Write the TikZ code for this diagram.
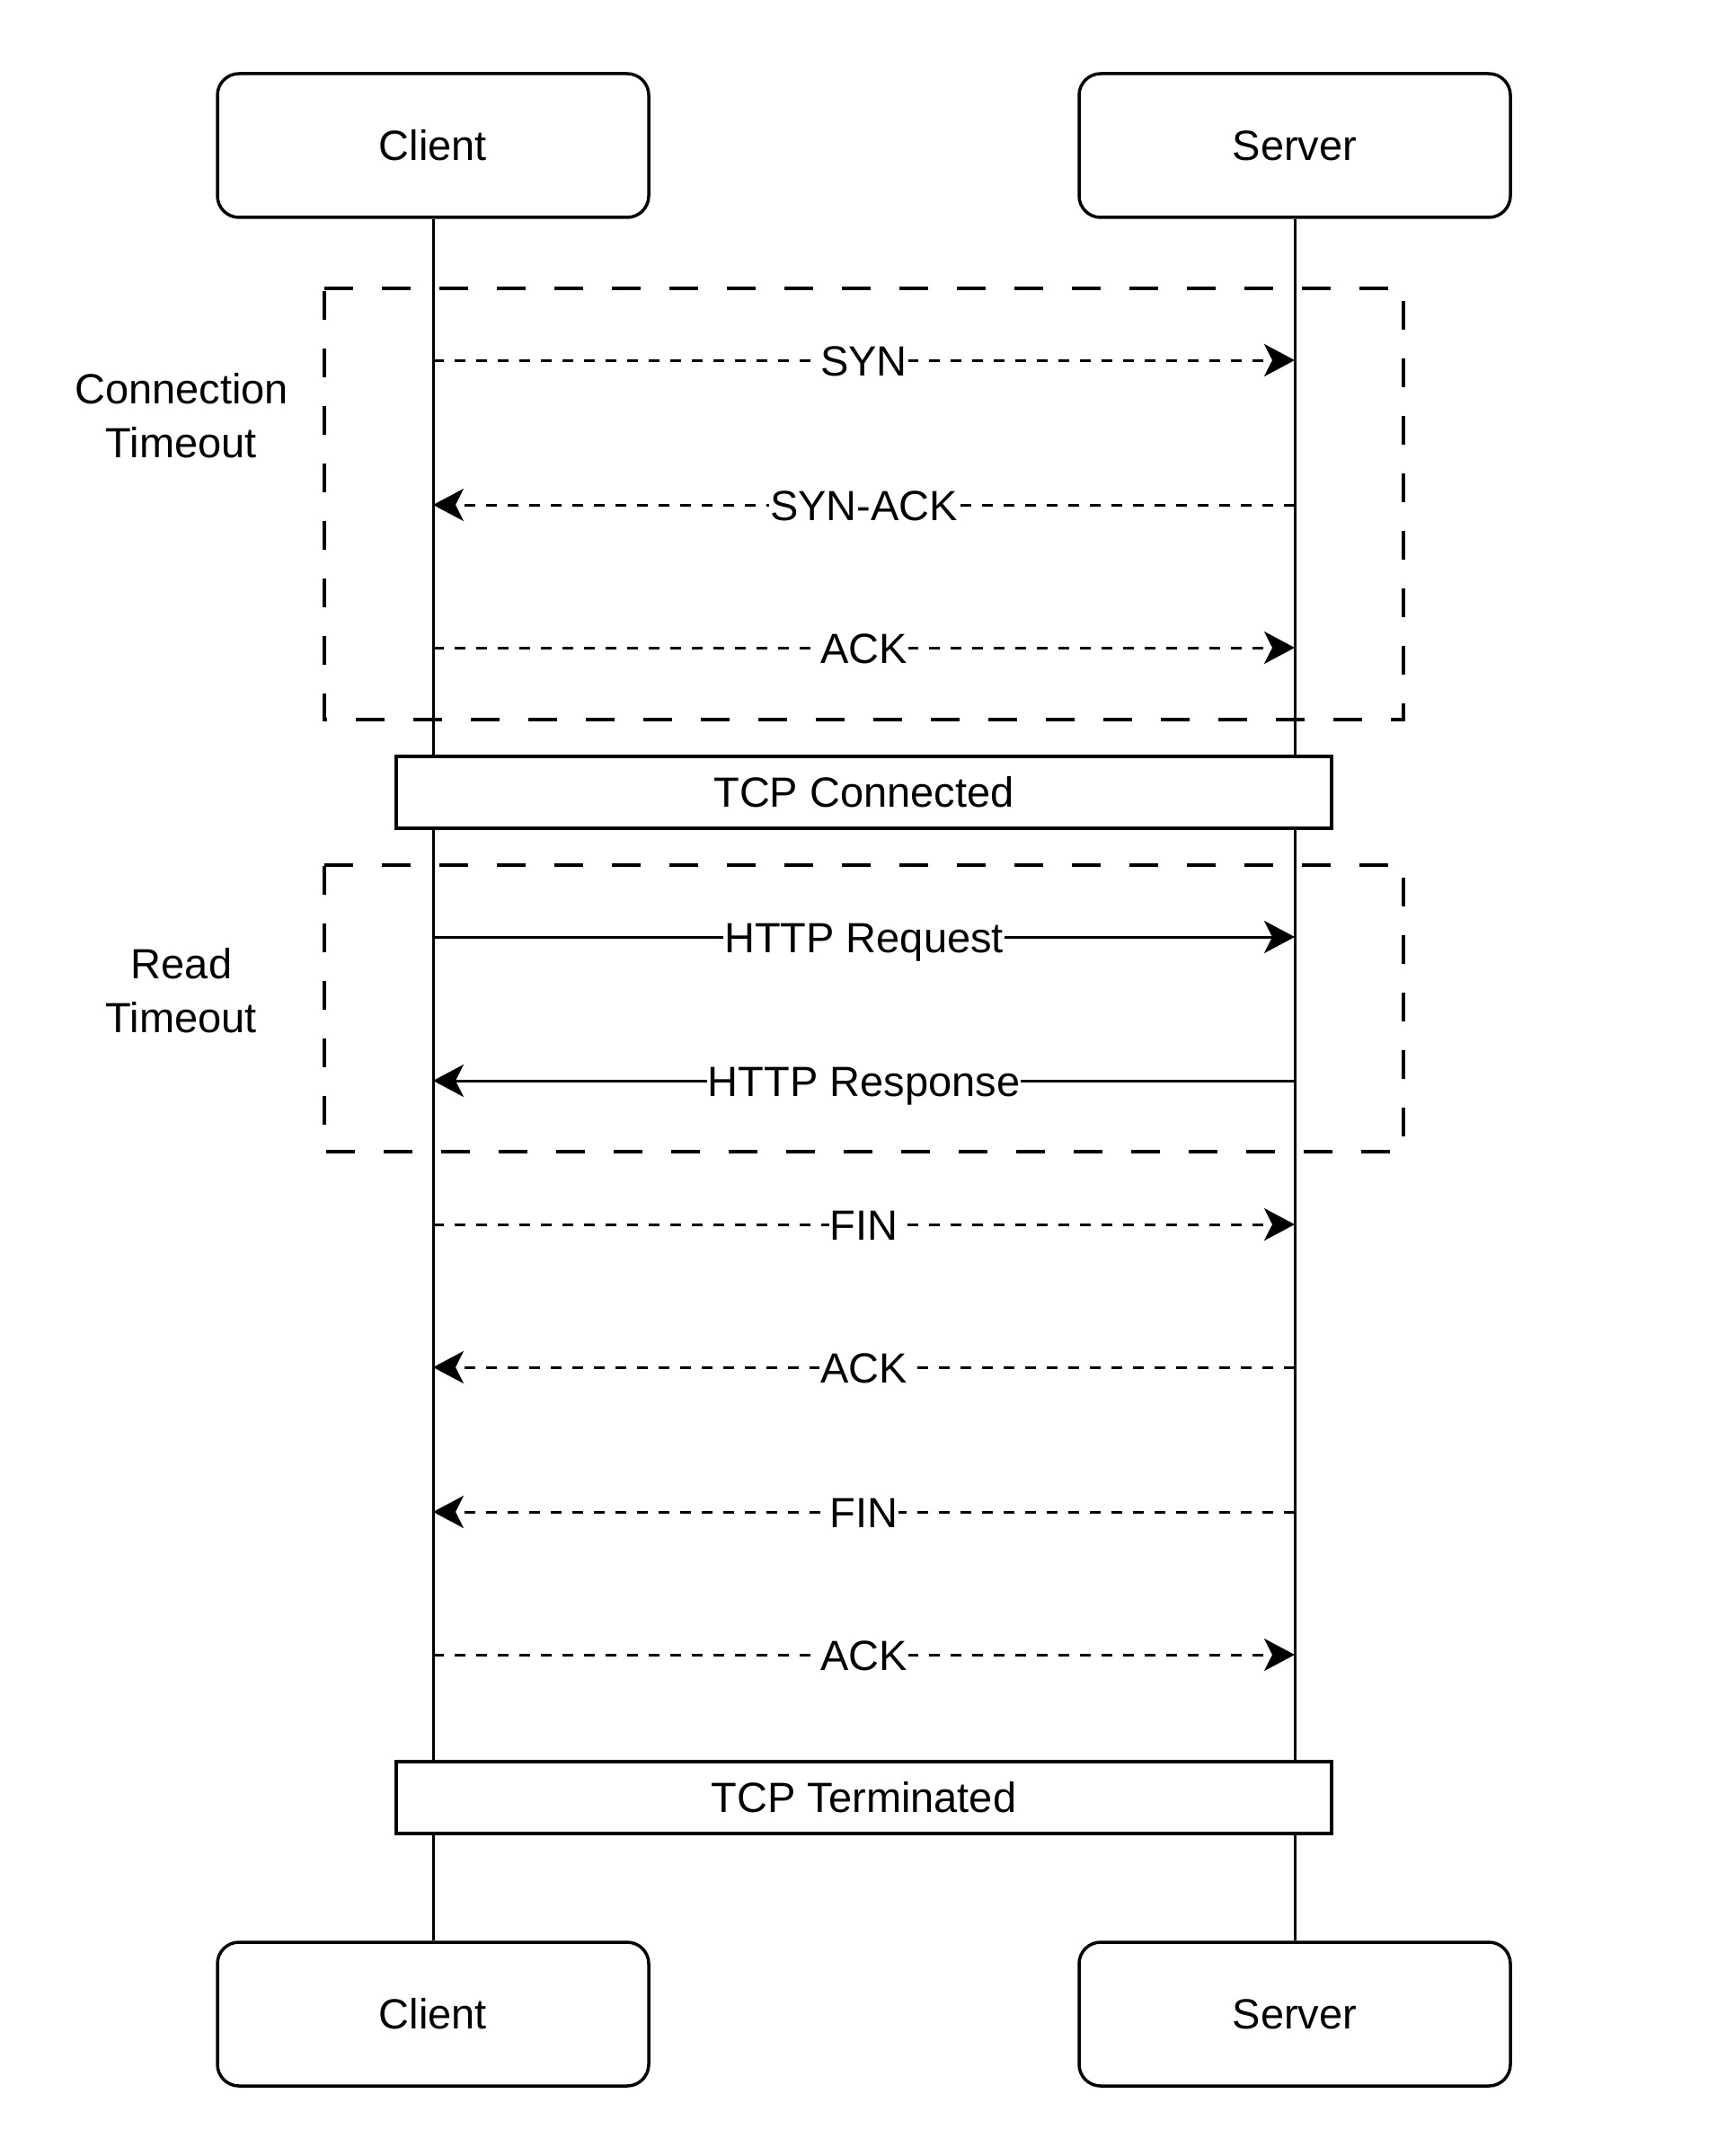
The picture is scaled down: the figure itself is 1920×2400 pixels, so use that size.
\documentclass[tikz,border=0pt]{standalone}
\usepackage{fontspec}
\setmainfont{Liberation Sans}
\usetikzlibrary{arrows.meta}
\tikzset{
  actor/.style={draw, line width=3.5pt, rounded corners=24pt, minimum width=480pt, minimum height=160pt, inner sep=0pt, fill=white},
  lifeline/.style={line width=3pt},
  frame/.style={minimum width=1201pt, inner sep=0pt},
  framepath/.style={line width=3.5pt, dash pattern=on 32pt off 32pt},
  statebox/.style={draw, line width=3.5pt, minimum width=1041pt, minimum height=80pt, inner sep=0pt, fill=white},
  msg/.style={line width=3pt, -{Stealth[length=34pt,width=36pt,inset=9pt]}},
  dotmsg/.style={msg, dash pattern=on 12pt off 12pt},
  lbl/.style={fill=white, inner sep=1pt, text height=34pt, text depth=0pt},
  side/.style={align=center, inner sep=0pt}
}
\begin{document}
\begin{tikzpicture}[x=1pt,y=-1pt,font=\fontsize{47}{60}\selectfont]
\useasboundingbox (0,0) rectangle (1920,2400);
% actors
\node[actor] (cTop) at (482,162) {Client};
\node[actor] (sTop) at (1441,162) {Server};
\node[actor] (cBot) at (482,2242) {Client};
\node[actor] (sBot) at (1441,2242) {Server};
% lifelines
\draw[lifeline] (cTop.south) -- (cBot.north);
\draw[lifeline] (sTop.south) -- (sBot.north);
% frames
\node[frame, minimum height=480pt] (conn) at (961.5,561) {};
\node[frame, minimum height=319pt] (read) at (961.5,1122.5) {};
\draw[framepath] (conn.north west) -- (conn.north east) -- (conn.south east) -- (conn.south west) -- cycle;
\draw[framepath] (read.north west) -- (read.north east) -- (read.south east) -- (read.south west) -- cycle;
\node[side] (connlbl) at (202,463) {Connection\\Timeout};
\node[side] (readlbl) at (202,1103) {Read\\Timeout};
% state boxes
\node[statebox] (connected) at (961.5,882) {TCP Connected};
\node[statebox] (terminated) at (961.5,2001) {TCP Terminated};
% message anchor points
\foreach \i/\y in {1/401,2/562,3/721,4/1043,5/1203,6/1363,7/1522,8/1683,9/1842}{
  \coordinate (c\i) at (482,\y);
  \coordinate (s\i) at (1441,\y);
}
% messages
\draw[dotmsg] (c1) -- node[lbl]{SYN} (s1);
\draw[dotmsg] (s2) -- node[lbl]{SYN-ACK} (c2);
\draw[dotmsg] (c3) -- node[lbl]{ACK} (s3);
\draw[msg] (c4) -- node[lbl]{HTTP Request} (s4);
\draw[msg] (s5) -- node[lbl]{HTTP Response} (c5);
\draw[dotmsg] (c6) -- node[lbl]{FIN} (s6);
\draw[dotmsg] (s7) -- node[lbl]{ACK} (c7);
\draw[dotmsg] (s8) -- node[lbl]{FIN} (c8);
\draw[dotmsg] (c9) -- node[lbl]{ACK} (s9);
\end{tikzpicture}
\end{document}
